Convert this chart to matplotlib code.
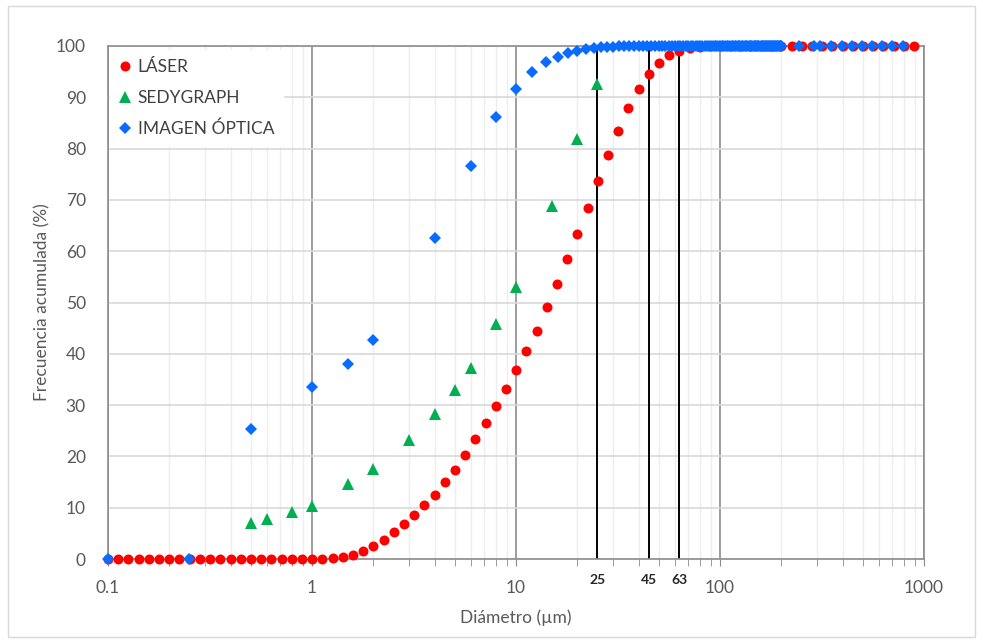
import numpy as np
import matplotlib.pyplot as plt
from matplotlib.patches import Rectangle
from matplotlib.transforms import blended_transform_factory

plt.rcParams['font.family'] = ['Lato', 'DejaVu Sans']

# --- datos ---
# difraccion laser (tamices del equipo, um) y frecuencia acumulada (%)
laser_d = [0.100, 0.112, 0.126, 0.142, 0.159, 0.178, 0.200, 0.224, 0.252, 0.283,
           0.317, 0.356, 0.399, 0.448, 0.502, 0.564, 0.632, 0.710, 0.796, 0.893,
           1.002, 1.125, 1.262, 1.416, 1.589, 1.783, 2.000, 2.244, 2.518, 2.825,
           3.170, 3.557, 3.991, 4.477, 5.024, 5.637, 6.325, 7.096, 7.962, 8.934,
           10.024, 11.247, 12.619, 14.159, 15.887, 17.825, 20.000, 22.440, 25.179, 28.251,
           31.698, 35.566, 39.905, 44.774, 50.238, 56.368, 63.246, 70.963, 79.621, 89.337,
           100.237, 112.468, 126.191, 141.589, 158.866, 178.250, 200.000, 224.404, 251.785, 282.508,
           316.979, 355.656, 399.052, 447.744, 502.377, 563.677, 632.456, 709.627, 796.214, 893.367]
laser_f = [0, 0, 0, 0, 0, 0, 0, 0, 0, 0,
           0, 0, 0, 0, 0, 0, 0, 0, 0, 0,
           0.0, 0.0, 0.1, 0.3, 0.8, 1.6, 2.5, 3.7, 5.3, 6.8,
           8.5, 10.5, 12.5, 15.0, 17.4, 20.3, 23.3, 26.5, 29.8, 33.2,
           36.8, 40.5, 44.5, 49.2, 53.7, 58.4, 63.4, 68.4, 73.7, 78.7,
           83.5, 87.9, 91.6, 94.5, 96.7, 98.2, 99.1, 99.6, 99.9, 100,
           100, 100, 100, 100, 100, 100, 100, 100, 100, 100,
           100, 100, 100, 100, 100, 100, 100, 100, 100, 100]

# sedigrafo
sedy_d = [0.5, 0.6, 0.8, 1, 1.5, 2, 3, 4, 5, 6, 8, 10, 15, 20, 25]
sedy_f = [7.1, 7.7, 9.1, 10.4, 14.6, 17.5, 23.2, 28.2, 32.9, 37.3, 45.8, 53.1, 68.9, 81.9, 92.5]

# analisis de imagen optica
img_d = [0.1, 0.25, 0.5, 1, 1.5, 2, 4, 6, 8,
         10, 12, 14, 16, 18, 20, 22, 24, 26, 28, 30, 32, 34, 36, 38, 40,
         42, 44, 46, 48, 50, 52, 54, 56, 58, 60, 62, 64, 66, 68, 70,
         72, 74, 76, 78, 80, 82, 84, 86, 88, 90, 92, 94, 96, 98, 100,
         102, 104, 106, 108, 110, 112, 114, 116, 118, 120, 122, 124, 126, 128, 130,
         132, 134, 136, 138, 140, 142, 144, 146, 148, 150, 152, 154, 156, 158, 160,
         162, 164, 166, 168, 170, 172, 174, 176, 178, 180, 182, 184, 186, 188, 190,
         192, 194, 196, 198, 200,
         245, 290, 310, 350, 395, 445, 495, 555, 625, 700, 790]
img_f = [0, 0, 25.3, 33.6, 38.0, 42.7, 62.5, 76.7, 86.1,
         91.6, 95.0, 96.9, 97.9, 98.6, 99.1, 99.5, 99.7, 99.8, 99.9, 99.9, 100, 100, 100, 100, 100,
         100, 100, 100, 100, 100, 100, 100, 100, 100, 100, 100, 100, 100, 100, 100,
         100, 100, 100, 100, 100, 100, 100, 100, 100, 100, 100, 100, 100, 100, 100,
         100, 100, 100, 100, 100, 100, 100, 100, 100, 100, 100, 100, 100, 100, 100,
         100, 100, 100, 100, 100, 100, 100, 100, 100, 100, 100, 100, 100, 100, 100,
         100, 100, 100, 100, 100, 100, 100, 100, 100, 100, 100, 100, 100, 100, 100,
         100, 100, 100, 100, 100,
         100, 100, 100, 100, 100, 100, 100, 100, 100, 100, 100]

# tamices de referencia
cortes = [25, 45, 63]

x_ticks = [0.1, 1, 10, 100, 1000]
x_labels = ['0.1', '1', '10', '100', '1000']
y_ticks = [0, 10, 20, 30, 40, 50, 60, 70, 80, 90, 100]

gris_txt = '#595959'

fig = plt.figure(figsize=(9.83, 6.42), dpi=100)
ax = fig.add_axes([108 / 983, 1 - 559 / 642, (924 - 108) / 983, (559 - 46) / 642])

# marco del grafico
fig.patches.append(Rectangle((8 / 983, 5 / 642), 967 / 983, 631 / 642,
                             transform=fig.transFigure, fill=False,
                             edgecolor='#d9d9d9', linewidth=1.0))

ax.set_xscale('log')
ax.set_xlim(0.1, 1000)
ax.set_ylim(0, 100)

ax.set_xticks(x_ticks)
ax.set_xticklabels(x_labels)
ax.set_xticks([m * d for d in [0.1, 1, 10, 100] for m in range(2, 10)], minor=True)
ax.set_xticklabels([], minor=True)
ax.set_yticks(y_ticks)

ax.grid(True, which='minor', axis='x', color='#eeeeee', linewidth=1.0, zorder=0)
ax.grid(True, which='major', axis='y', color='#d9d9d9', linewidth=1.2, zorder=0)
ax.grid(True, which='major', axis='x', color='#8c8c8c', linewidth=1.2, zorder=1)

for s in ax.spines.values():
    s.set_color('#8c8c8c')
    s.set_linewidth(1.2)

ax.tick_params(axis='x', which='both', direction='out', length=5, color='#8c8c8c',
               labelsize=12.5, labelcolor=gris_txt, pad=10)
ax.tick_params(axis='y', length=0, labelsize=12.5, labelcolor=gris_txt, pad=16)

# lineas de corte
trans = blended_transform_factory(ax.transData, ax.transAxes)
for c in cortes:
    ax.plot([c, c], [0, 100], color='black', linewidth=1.4, zorder=2)
    ax.text(c, -0.041, str(c), transform=trans, ha='center', va='center',
            fontsize=10, fontweight='bold', color='#262626')

ax.plot(laser_d, laser_f, 'o', color='#ff0000', markersize=7.2, markeredgewidth=0,
        clip_on=False, zorder=3, label='LÁSER')
ax.plot(sedy_d, sedy_f, '^', color='#00b050', markersize=8.5, markeredgewidth=0,
        clip_on=False, zorder=4, label='SEDYGRAPH')
ax.plot(img_d, img_f, 'D', color='#0a6cff', markersize=6.2, markeredgewidth=0,
        clip_on=False, zorder=5, label='IMAGEN ÓPTICA')

leg = ax.legend(loc='upper left', bbox_to_anchor=(0.0, 1 - 3 / 513), frameon=True,
                fontsize=12.5, labelcolor='#404040', handletextpad=0.3,
                handlelength=0.8, labelspacing=0.85, borderpad=0.5, borderaxespad=0.1)
leg.get_frame().set_facecolor('white')
leg.get_frame().set_edgecolor('white')
leg.get_frame().set_alpha(1.0)
leg.get_frame().set_boxstyle('square', pad=0)
leg.set_zorder(6)

ax.set_xlabel('Diámetro (µm)', fontsize=12.5, color=gris_txt, labelpad=10)
ax.set_ylabel('Frecuencia acumulada (%)', fontsize=12.5, color=gris_txt, labelpad=4)

fig.savefig('out.png', dpi=100)
